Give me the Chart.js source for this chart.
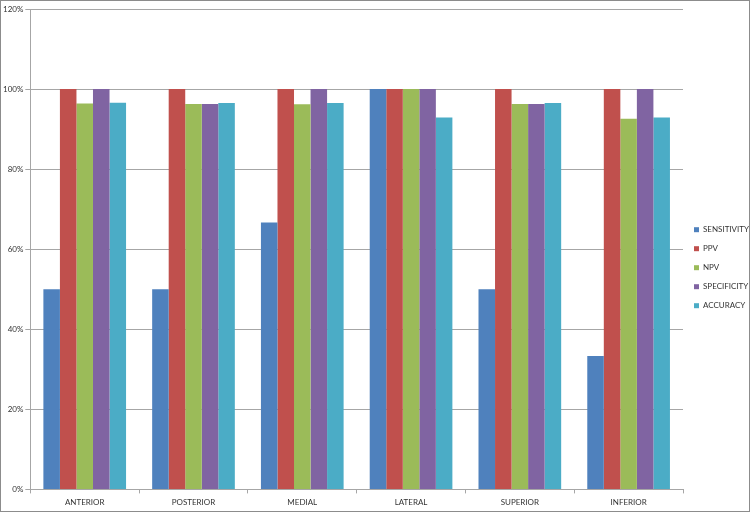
<!DOCTYPE html>
<html>
<head>
<meta charset="utf-8">
<script src="https://cdn.jsdelivr.net/npm/chart.js@4"></script>
<style>
  body { margin: 0; background: #fff; }
  #box { position: absolute; left: 0; top: 0; width: 748px; height: 510px; border: 1px solid #8c8c8c; }
</style>
</head>
<body>
<div id="box"><canvas id="myBarChart"></canvas></div>
<script>
// data kategori & nilai
const categories = ["ANTERIOR", "POSTERIOR", "MEDIAL", "LATERAL", "SUPERIOR", "INFERIOR"];
const sensitivity = [50, 50, 66.7, 100, 50, 33.3];
const ppv = [100, 100, 100, 100, 100, 100];
const npv = [96.4, 96.3, 96.2, 100, 96.3, 92.6];
const specificity = [100, 96.3, 100, 100, 96.3, 100];
const accuracy = [96.6, 96.5, 96.5, 92.9, 96.5, 92.9];
const yTicks = [0, 20, 40, 60, 80, 100, 120];

const seriesNames = ["SENSITIVITY", "PPV", "NPV", "SPECIFICITY", "ACCURACY"];
const seriesData = [sensitivity, ppv, npv, specificity, accuracy];
const colors = ["#4F81BD", "#C0504D", "#9BBB59", "#8064A2", "#4BACC6"];

const gridColor = "#a6a6a6";
const family = "Lato, 'Open Sans', sans-serif";

const ctx = document.getElementById("myBarChart");
new Chart(ctx, {
  type: "bar",
  data: {
    labels: categories,
    datasets: seriesNames.map((name, i) => ({
      label: name,
      data: seriesData[i],
      backgroundColor: colors[i],
      borderWidth: 0,
      categoryPercentage: 0.76,
      barPercentage: 1.0,
    })),
  },
  options: {
    responsive: true,
    maintainAspectRatio: false,
    animation: false,
    layout: { padding: { top: 8, right: 0, left: 0, bottom: 0 } },
    plugins: {
      tooltip: { enabled: false },
      legend: {
        position: "right",
        align: "center",
        maxWidth: 66,
        title: { display: true, text: "", padding: { top: 0, bottom: 1 } },
        labels: {
          boxWidth: 5,
          boxHeight: 5,
          padding: 11,
          color: "#333",
          font: { family: family, size: 8 },
        },
      },
    },
    scales: {
      x: {
        grid: {
          offset: true,
          drawOnChartArea: false,
          drawTicks: true,
          tickLength: 4,
          color: gridColor,
        },
        border: { color: gridColor },
        ticks: { color: "#333", font: { family: family, size: 8 }, padding: 4, maxRotation: 0 },
      },
      y: {
        min: 0,
        max: 120,
        afterBuildTicks: (axis) => {
          axis.ticks = yTicks.map((v) => ({ value: v }));
        },
        grid: { color: gridColor, tickLength: 5 },
        border: { color: gridColor },
        ticks: {
          color: "#333",
          font: { family: family, size: 8 },
          padding: 2,
          callback: (v) => v + "%",
        },
      },
    },
  },
});
</script>
</body>
</html>
